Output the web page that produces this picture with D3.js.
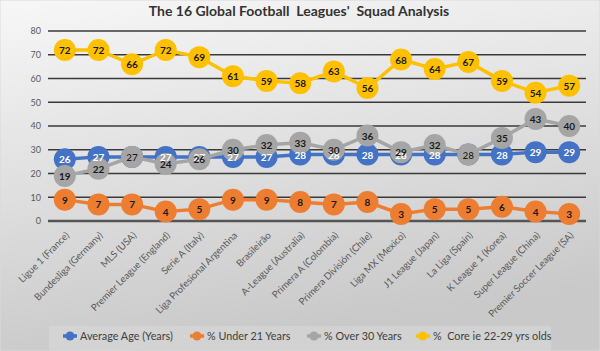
<!DOCTYPE html>
<html>
<head>
<meta charset="utf-8">
<script src="https://cdn.jsdelivr.net/npm/d3@7"></script>
<style>
  body { margin: 0; padding: 0; }
  svg { display: block; font-family: Lato, Carlito, "Liberation Sans", sans-serif; }
  text { white-space: pre; }
</style>
</head>
<body>
<svg></svg>
<script>
// leagues on the x axis
const leagues = ["Ligue 1 (France)", "Bundesliga (Germany)", "MLS (USA)", "Premier League (England)",
  "Serie A (Italy)", "Liga Profesional Argentina", "Brasileirão", "A-League (Australia)",
  "Primera A (Colombia)", "Primera División (Chile)", "Liga MX (Mexico)", "J1 League (Japan)",
  "La Liga (Spain)", "K League 1 (Korea)", "Super League (China)", "Premier Soccer League (SA)"];

const avgAge   = [26, 27, 27, 27, 27, 27, 27, 28, 28, 28, 28, 28, 28, 28, 29, 29];
const under21  = [9, 7, 7, 4, 5, 9, 9, 8, 7, 8, 3, 5, 5, 6, 4, 3];
const over30   = [19, 22, 27, 24, 26, 30, 32, 33, 30, 36, 29, 32, 28, 35, 43, 40];
const core     = [72, 72, 66, 72, 69, 61, 59, 58, 63, 56, 68, 64, 67, 59, 54, 57];

const seriesNames = ["Average Age (Years)", "% Under 21 Years", "% Over 30 Years", "%  Core ie 22-29 yrs olds"];
const yTicks = [0, 10, 20, 30, 40, 50, 60, 70, 80];

var w = 600, h = 351;
const margin = { top: 31, left: 48, right: 14, bottom: 130 };
const innerW = w - margin.left - margin.right;
const innerH = 221 - margin.top;

const colors = ["#4472C4", "#ED7D31", "#A5A5A5", "#FFC000"];
const series = [avgAge, under21, over30, core].map((vals, i) => ({
  name: seriesNames[i], color: colors[i], values: vals,
  labelColor: i == 0 ? "#ffffff" : "#1a1a1a"
}));

let svg = d3.select("svg").attr("width", w).attr("height", h);

// background gradient
const defs = svg.append("defs");
const grad = defs.append("linearGradient").attr("id", "bg")
  .attr("x1", 0).attr("y1", 0).attr("x2", 0.25).attr("y2", 1);
grad.append("stop").attr("offset", "0%").attr("stop-color", "#f7f7f7");
grad.append("stop").attr("offset", "100%").attr("stop-color", "#c9c9c9");
svg.append("rect").attr("width", w).attr("height", h).attr("fill", "url(#bg)")
  .attr("stroke", "#d9d9d9").attr("stroke-width", 1);

svg.append("text")
  .attr("x", 299).attr("y", 16)
  .attr("text-anchor", "middle")
  .style("font-size", "14px").style("font-weight", "bold")
  .attr("fill", "#333")
  .text("The 16 Global Football  Leagues'  Squad Analysis");

const g = svg.append("g").attr("transform", `translate(${margin.left},${margin.top})`);

let xScale = d3.scaleBand().domain(leagues).range([0, innerW]);
let yScale = d3.scaleLinear().domain([0, 80]).range([innerH, 0]);
const cx = d => xScale(d) + xScale.bandwidth() / 2;

// gridlines
g.selectAll(".grid").data(yTicks.filter(t => t > 0)).enter().append("line")
  .attr("x1", 0).attr("x2", innerW)
  .attr("y1", d => yScale(d)).attr("y2", d => yScale(d))
  .attr("stroke", "#3a3a3a").attr("stroke-width", 1.5);
g.append("line").attr("x1", 0).attr("x2", innerW)
  .attr("y1", yScale(0)).attr("y2", yScale(0))
  .attr("stroke", "#555").attr("stroke-width", 2.5);

// y axis labels
let yAxis = d3.axisLeft(yScale).tickValues(yTicks).tickSize(0).tickPadding(7);
let yAxisG = g.append("g").call(yAxis);
yAxisG.select(".domain").remove();
yAxisG.selectAll("text").style("font-size", "9px").attr("fill", "#595959")
  .style("font-family", "Lato, 'Liberation Sans', sans-serif");

// x axis labels, rotated
g.selectAll(".xlab").data(leagues).enter().append("text")
  .attr("transform", d => `translate(${cx(d) + 5},${innerH + 15}) rotate(-45)`)
  .attr("text-anchor", "end")
  .style("font-size", "9.7px").attr("fill", "#595959")
  .text(d => d);

// lines and markers
const line = d3.line().x((d, i) => cx(leagues[i])).y(d => yScale(d));
series.forEach(s => {
  const sg = g.append("g");
  sg.append("path").datum(s.values)
    .attr("d", line).attr("fill", "none")
    .attr("stroke", s.color).attr("stroke-width", 3.5);
  sg.selectAll("circle").data(s.values).enter().append("circle")
    .attr("cx", (d, i) => cx(leagues[i]))
    .attr("cy", d => yScale(d))
    .attr("r", 11)
    .attr("fill", s.color);
});

// data labels on top
series.forEach(s => {
  g.append("g").selectAll("text").data(s.values).enter().append("text")
    .attr("x", (d, i) => cx(leagues[i]))
    .attr("y", d => yScale(d) + 4)
    .attr("text-anchor", "middle")
    .style("font-size", "10px").style("font-weight", "bold")
    .attr("fill", s.labelColor)
    .text(d => d);
});

// legend
const lg = svg.append("g");
lg.append("rect").attr("x", 49).attr("y", 326).attr("width", 502).attr("height", 25)
  .attr("fill", "#d9d9d9").attr("opacity", 0.6);
const legX = [70, 197, 314, 423];
series.forEach((s, i) => {
  const item = lg.append("g").attr("transform", `translate(${legX[i]},336)`);
  item.append("line").attr("x1", -7).attr("x2", 7).attr("stroke", s.color).attr("stroke-width", 3.5);
  item.append("circle").attr("r", 4.5).attr("fill", s.color);
  item.append("text").attr("x", 10).attr("y", 4)
    .style("font-size", "10.8px").attr("fill", "#404040")
    .text(s.name);
});
</script>
</body>
</html>
